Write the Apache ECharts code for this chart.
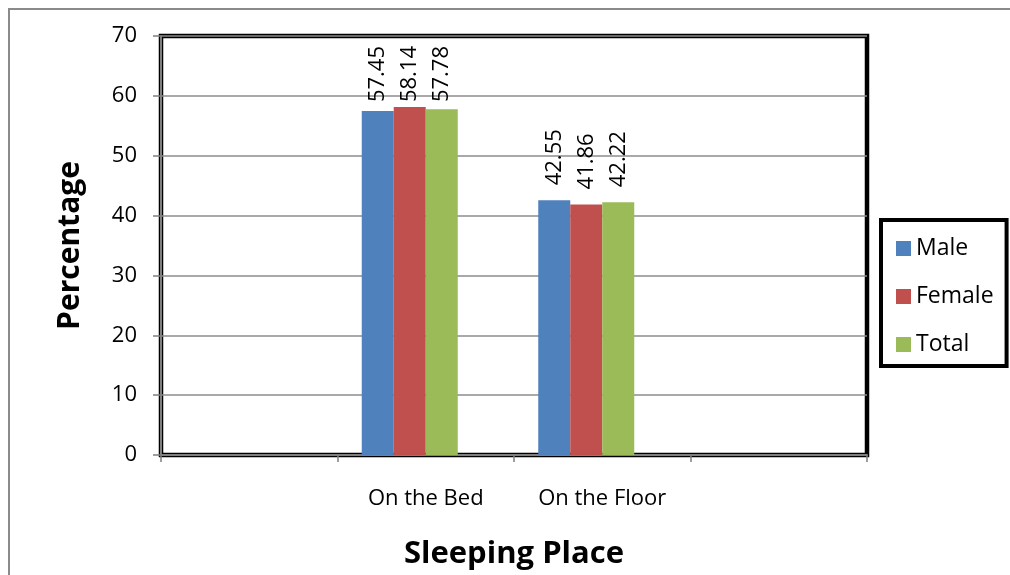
<!DOCTYPE html>
<html>
<head>
<meta charset="utf-8">
<script src="https://cdn.jsdelivr.net/npm/echarts@6/dist/echarts.min.js"></script>
<style>
  html, body { margin: 0; padding: 0; background: #fff; }
  #chart { width: 1010px; height: 575px; }
</style>
</head>
<body>
<div id="chart"></div>
<script>
// Sleeping place by sex (percentages)
const categories = ['', 'On the Bed', 'On the Floor', ''];
const seriesNames = ['Male', 'Female', 'Total'];
const maleValues = [null, 57.45, 42.55, null];
const femaleValues = [null, 58.14, 41.86, null];
const totalValues = [null, 57.78, 42.22, null];
// empty fourth column in each group (keeps the three bars left of the category centre)
const spacerValues = [null, null, null, null];
const yTicks = { min: 0, max: 70, interval: 10 };

const colors = ['#4F81BD', '#C0504D', '#9BBB59'];
const FONT = "'Open Sans', 'Noto Sans', sans-serif";
const LABEL_SIZE = 22;
const LABEL_DISTANCE = 15;
const GRID = { left: 161, right: 143, top: 36, bottom: 120 };
// value labels are kept inside the plot area, a little below its top edge
const LABEL_TOP_LIMIT = GRID.top + 10;

const fmt = v => v.toFixed(2);

const chart = echarts.init(document.getElementById('chart'), null, { renderer: 'canvas' });

function barSeries(name, data, color) {
  return {
    name: name,
    type: 'bar',
    data: data,
    barWidth: 32,
    barGap: '0%',
    itemStyle: { color: color },
    label: {
      show: true,
      position: 'top',
      rotate: 90,
      align: 'left',
      verticalAlign: 'middle',
      distance: LABEL_DISTANCE,
      fontFamily: FONT,
      fontSize: LABEL_SIZE,
      color: '#000',
      formatter: p => p.value == null ? '' : fmt(p.value)
    }
  };
}

chart.setOption({
  animation: false,
  backgroundColor: '#fff',
  textStyle: { fontFamily: FONT },
  graphic: [{
    type: 'rect',
    shape: { x: 9, y: 9, width: 1200, height: 800 },
    style: { fill: 'none', stroke: '#8a8a8a', lineWidth: 2 },
    z: -10
  }],
  grid: {
    left: GRID.left, right: GRID.right, top: GRID.top, bottom: GRID.bottom,
    show: true,
    borderColor: '#000',
    borderWidth: 4.5,
    backgroundColor: 'transparent'
  },
  legend: {
    orient: 'vertical',
    left: 881,
    top: 220,
    data: seriesNames,
    icon: 'rect',
    itemWidth: 15,
    itemHeight: 15,
    itemGap: 25,
    padding: [17, 13, 10, 15],
    borderColor: '#000',
    borderWidth: 4,
    textStyle: { fontFamily: FONT, fontSize: 23, color: '#000' }
  },
  xAxis: {
    type: 'category',
    data: categories,
    name: 'Sleeping Place',
    nameLocation: 'middle',
    nameGap: 84,
    nameTextStyle: { fontFamily: FONT, fontSize: 31, fontWeight: 'bold', color: '#000' },
    axisLine: { show: true, lineStyle: { color: '#7f7f7f', width: 2 } },
    axisTick: { show: true, length: 7, lineStyle: { color: '#7f7f7f', width: 1.5 } },
    axisLabel: { fontFamily: FONT, fontSize: 22, color: '#000', margin: 33, interval: 0 },
    splitLine: { show: false }
  },
  yAxis: {
    type: 'value',
    min: yTicks.min,
    max: yTicks.max,
    interval: yTicks.interval,
    name: 'Percentage',
    nameLocation: 'middle',
    nameGap: 76,
    nameRotate: 90,
    nameTextStyle: { fontFamily: FONT, fontSize: 30, fontWeight: 'bold', color: '#000' },
    axisLine: { show: true, lineStyle: { color: '#7f7f7f', width: 2 } },
    axisTick: { show: true, length: 8, lineStyle: { color: '#7f7f7f', width: 1.5 } },
    axisLabel: { fontFamily: FONT, fontSize: 22, color: '#000', margin: 24 },
    splitLine: { show: true, lineStyle: { color: '#8c8c8c', width: 1.5 } }
  },
  series: [
    barSeries(seriesNames[0], maleValues, colors[0]),
    barSeries(seriesNames[1], femaleValues, colors[1]),
    barSeries(seriesNames[2], totalValues, colors[2]),
    { name: 'spacer', type: 'bar', data: spacerValues, barWidth: 32, barGap: '0%', silent: true }
  ]
});

// Pull down any value label that would run past the top of the plot area.
const measureCtx = document.createElement('canvas').getContext('2d');
measureCtx.font = LABEL_SIZE + 'px ' + FONT;
function clampLabels(values) {
  return values.map(v => {
    if (v == null) return v;
    const barTop = chart.convertToPixel({ yAxisIndex: 0 }, v);
    const textLen = measureCtx.measureText(fmt(v)).width;
    const top = barTop - LABEL_DISTANCE - textLen;
    if (top >= LABEL_TOP_LIMIT) return v;
    return { value: v, label: { distance: barTop - textLen - LABEL_TOP_LIMIT } };
  });
}
chart.setOption({
  series: [
    { data: clampLabels(maleValues) },
    { data: clampLabels(femaleValues) },
    { data: clampLabels(totalValues) }
  ]
});
</script>
</body>
</html>
